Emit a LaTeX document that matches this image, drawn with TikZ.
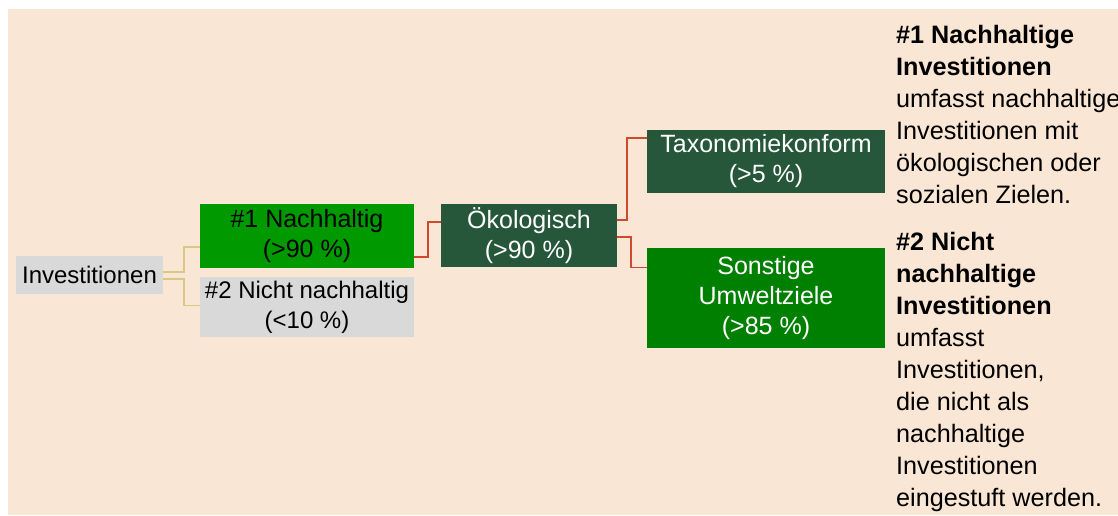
\documentclass[tikz,border=0pt]{standalone}
\usepackage{fontspec}
\setmainfont{Liberation Sans}
\usetikzlibrary{positioning}
\definecolor{peach}{HTML}{F9E6D4}
\definecolor{boxgray}{HTML}{D9D9D9}
\definecolor{litegreen}{HTML}{009900}
\definecolor{darkgreen}{HTML}{26573A}
\definecolor{midgreen}{HTML}{008000}
\definecolor{tanline}{HTML}{D8C882}
\definecolor{redline}{HTML}{CC4B2C}
\begin{document}
\begin{tikzpicture}[x=1pt, y=-1pt,
    box/.style={rectangle, inner sep=0pt, align=center,
                font=\fontsize{25}{30}\selectfont},
    graybox/.style={box, fill=boxgray, text=black,
                    font=\fontsize{24}{30}\selectfont},
    darkbox/.style={box, fill=darkgreen, text=white},
    tanlink/.style={draw=tanline, line width=1.8pt},
    redlink/.style={draw=redline, line width=1.8pt},
    note/.style={anchor=north west, inner sep=0pt, align=left,
                 font=\fontsize{25.2}{32}\selectfont}]
  \useasboundingbox (0,0) rectangle (1118,515);
  \fill[peach] (8,9) rectangle (1118,515);
  \node[graybox, minimum width=147pt, minimum height=38pt] (inv) at (89.5,275) {Investitionen};
  \node[box, fill=litegreen, minimum width=214pt, minimum height=64pt] (nach) at (307,236) {\#1 Nachhaltig\\(>90 \%)};
  \node[graybox, minimum width=214pt, minimum height=60pt, below=9pt of nach] (nicht) {\#2 Nicht nachhaltig\\(<10 \%)};
  \node[darkbox, minimum width=176pt, minimum height=63pt] (oeko) at (529,235.5) {Ökologisch\\(>90 \%)};
  \node[darkbox, minimum width=238pt, minimum height=63pt] (taxo) at (766,161.5) {Taxonomiekonform\\(>5 \%)};
  \node[box, fill=midgreen, text=white, minimum width=238pt, minimum height=100pt, below=55pt of taxo] (sonst) {Sonstige\\Umweltziele\\(>85 \%)};
  \draw[tanlink] ([yshift=3pt]inv.east) -- ++(21,0) |- ([yshift=-11pt]nach.west);
  \draw[tanlink] ([yshift=-4pt]inv.east) -- ++(21,0) |- ([yshift=2pt]nicht.west);
  \draw[redlink] ([yshift=-21pt]nach.east) -- ++(14,0) |- ([yshift=13.5pt]oeko.west);
  \draw[redlink] ([yshift=15.5pt]oeko.east) -- ++(10,0) |- ([yshift=23.5pt]taxo.west);
  \draw[redlink] ([yshift=-1.5pt]oeko.east) -- ++(14,0) |- ([yshift=31pt]sonst.west);
  \node[note] (note1) at (896,25) {\textbf{\#1 Nachhaltige}\\\textbf{Investitionen}\\umfasst nachhaltige\\Investitionen mit\\ökologischen oder\\sozialen Zielen.};
  \node[note] (note2) at (896,232) {\textbf{\#2 Nicht}\\\textbf{nachhaltige}\\\textbf{Investitionen}\\umfasst\\Investitionen,\\die nicht als\\nachhaltige\\Investitionen\\eingestuft werden.};
\end{tikzpicture}
\end{document}
